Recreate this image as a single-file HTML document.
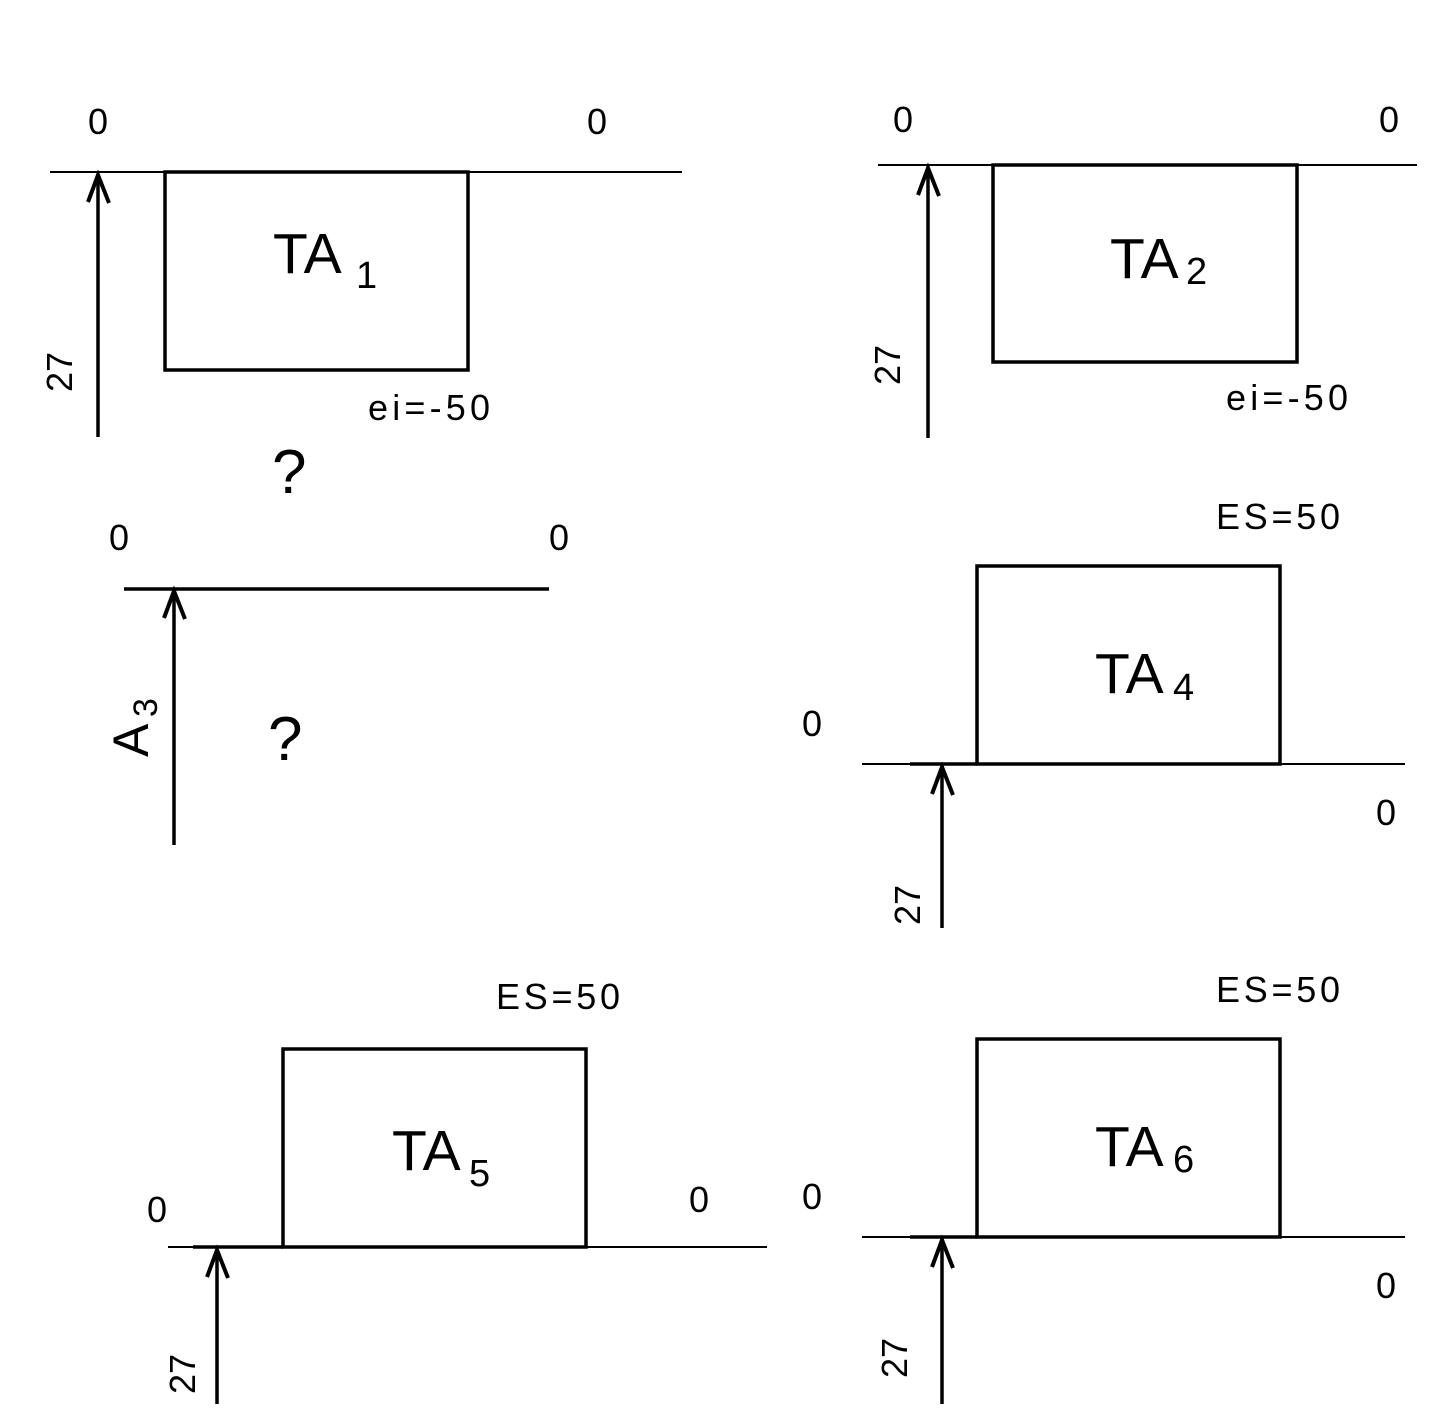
<!DOCTYPE html>
<html><head><meta charset="utf-8"><style>
html,body{margin:0;padding:0;background:#fff}
svg{display:block}
text{font-family:"Liberation Sans",sans-serif;fill:#000}
</style></head><body>
<svg width="1429" height="1417" viewBox="0 0 1429 1417" xmlns="http://www.w3.org/2000/svg">
<g stroke="#000" fill="none" stroke-linecap="butt">
<line x1="50" y1="172" x2="682" y2="172" stroke-width="2"/>
<rect x="165" y="172" width="303" height="198" stroke-width="3.5"/>
<line x1="98" y1="437" x2="98" y2="174" stroke-width="3.5"/>
<polyline points="88,202 98,175 109,203" stroke-width="4"/>
<line x1="878" y1="165" x2="1417" y2="165" stroke-width="2"/>
<rect x="993" y="165" width="304" height="197" stroke-width="3.5"/>
<line x1="928" y1="438" x2="928" y2="167" stroke-width="3.5"/>
<polyline points="918,195 928,168 939,196" stroke-width="4"/>
<line x1="124" y1="589" x2="549" y2="589" stroke-width="3.5"/>
<line x1="174" y1="845" x2="174" y2="591" stroke-width="3.5"/>
<polyline points="164,618 174,591 185,619" stroke-width="4"/>
<line x1="862" y1="764" x2="1405" y2="764" stroke-width="2"/>
<line x1="910" y1="764" x2="977" y2="764" stroke-width="3.5"/>
<rect x="977" y="566" width="303" height="198" stroke-width="3.5"/>
<line x1="942" y1="928" x2="942" y2="766" stroke-width="3.5"/>
<polyline points="932,794 942,767 953,795" stroke-width="4"/>
<line x1="168" y1="1247" x2="767" y2="1247" stroke-width="2"/>
<line x1="193" y1="1247" x2="283" y2="1247" stroke-width="3.5"/>
<rect x="283" y="1049" width="303" height="198" stroke-width="3.5"/>
<line x1="217" y1="1404" x2="217" y2="1249" stroke-width="3.5"/>
<polyline points="207,1277 217,1250 228,1278" stroke-width="4"/>
<line x1="862" y1="1237" x2="1405" y2="1237" stroke-width="2"/>
<line x1="910" y1="1237" x2="977" y2="1237" stroke-width="3.5"/>
<rect x="977" y="1039" width="303" height="198" stroke-width="3.5"/>
<line x1="942" y1="1404" x2="942" y2="1239" stroke-width="3.5"/>
<polyline points="932,1267 942,1240 953,1268" stroke-width="4"/>
</g>

<g font-size="36">
<text x="88" y="134">0</text>
<text x="587" y="134">0</text>
<text x="273" y="273" font-size="57">TA</text>
<text x="356" y="288" font-size="38">1</text>
<text x="368" y="420" textLength="122" lengthAdjust="spacing">ei=-50</text>
<text x="72" y="392" transform="rotate(-90 72 392)">27</text>
<text x="272" y="493" font-size="62">?</text>
<text x="893" y="132">0</text>
<text x="1379" y="132">0</text>
<text x="1110" y="278" font-size="57">TA</text>
<text x="1186" y="284" font-size="38">2</text>
<text x="1226" y="410" textLength="122" lengthAdjust="spacing">ei=-50</text>
<text x="900" y="385" transform="rotate(-90 900 385)">27</text>
<text x="109" y="550">0</text>
<text x="549" y="550">0</text>
<text x="148" y="757" font-size="50" transform="rotate(-90 148 757)">A</text>
<text x="157" y="717" font-size="34" transform="rotate(-90 157 717)">3</text>
<text x="268" y="760" font-size="62">?</text>
<text x="1216" y="529" textLength="124" lengthAdjust="spacing">ES=50</text>
<text x="802" y="736">0</text>
<text x="1376" y="825">0</text>
<text x="1095" y="693" font-size="57">TA</text>
<text x="1173" y="700" font-size="38">4</text>
<text x="920" y="925" transform="rotate(-90 920 925)">27</text>
<text x="496" y="1009" textLength="124" lengthAdjust="spacing">ES=50</text>
<text x="147" y="1222">0</text>
<text x="689" y="1212">0</text>
<text x="392" y="1170" font-size="57">TA</text>
<text x="469" y="1186" font-size="38">5</text>
<text x="195" y="1394" transform="rotate(-90 195 1394)">27</text>
<text x="1216" y="1002" textLength="124" lengthAdjust="spacing">ES=50</text>
<text x="802" y="1209">0</text>
<text x="1376" y="1298">0</text>
<text x="1095" y="1166" font-size="57">TA</text>
<text x="1173" y="1172" font-size="38">6</text>
<text x="907" y="1378" transform="rotate(-90 907 1378)">27</text>
</g>
</svg>
</body></html>
